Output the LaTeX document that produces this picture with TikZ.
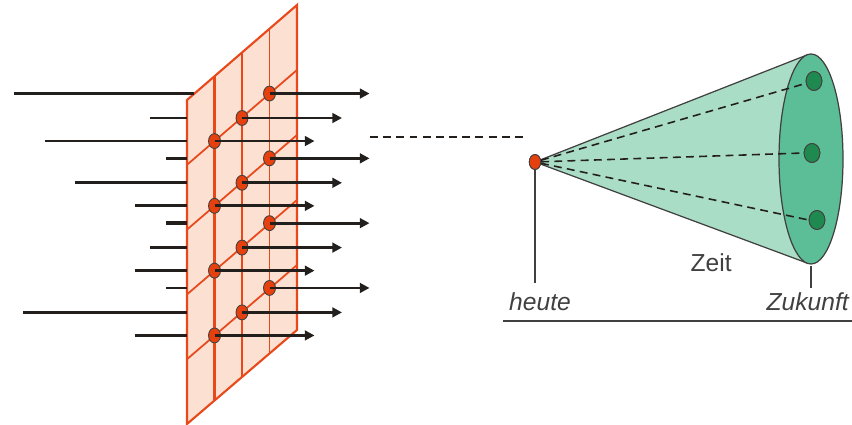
\documentclass[tikz,border=0pt]{standalone}
\usepackage{fontspec}
\setmainfont{Liberation Sans}
\usetikzlibrary{arrows.meta,shapes.geometric,positioning}
\definecolor{netzrot}{HTML}{E8481A}
\definecolor{netzfill}{HTML}{FCE0D2}
\definecolor{punktrot}{HTML}{E5400E}
\definecolor{kegelhell}{HTML}{AADDC5}
\definecolor{kegeldunkel}{HTML}{5CBE97}
\definecolor{punktgruen}{HTML}{1F8A4F}
\definecolor{strich}{HTML}{231F1C}
\definecolor{grau}{HTML}{404040}
\tikzset{every picture/.style={line width=0.75pt}}
\tikzset{
  netz/.style={draw=netzrot, line width=1pt},
  knoten/.style={ellipse, draw=strich!85, line width=0.5pt, fill=punktrot,
    minimum width=6.8pt, minimum height=8.5pt, inner sep=0pt},
  gruenpunkt/.style={ellipse, draw=strich!85, line width=0.5pt, fill=punktgruen,
    minimum width=9pt, minimum height=10.8pt, inner sep=0pt},
  pfeil/.style={draw=strich, line width=1.6pt, -{Triangle[length=5.5pt,width=5.5pt]}},
  zulauf/.style={draw=strich, line width=1.6pt},
  strichel/.style={draw=strich, line width=0.9pt, dash pattern=on 4.5pt off 3pt},
  kegelrand/.style={draw=grau, line width=0.7pt},
  beschriftung/.style={font=\fontsize{14}{16}\selectfont, text=grau, inner sep=0pt},
}

\begin{document}
\begin{tikzpicture}[x=0.02cm, y=-0.02cm]
    \useasboundingbox (0,0) rectangle (852,425);

    % Ebene (schraeges Gitter)
    \fill[netzfill] (187,100) -- (297,5) -- (297,330) -- (187,424) -- cycle;
    \foreach \kk in {1,...,4}
        \draw[netz] (187,{100+64.8*\kk}) -- (297,{5+65*\kk});
    \foreach \xs in {214.5,242}
        \draw[netz, line width=1.3pt] (\xs,{100-0.8636*(\xs-187)}) -- (\xs,{424-0.8636*(\xs-187)});
    \draw[netz, line width=0.7pt] (269.5,28.75) -- (269.5,352.75);
    \draw[netz, line width=1.2pt] (187,100) -- (297,5) -- (297,330) -- (187,424) -- cycle;

    % Punkte, Zulaeufe und Pfeile
    \foreach \xp/\yp/\xs/\xr [count=\nr] in {269.5/93.55/14/194, 242/118/150/187, 214.5/141.05/45/187,
                                     269.5/158.35/166/187, 242/182.8/75/187, 214.5/205.85/135/187,
                                     269.5/223.15/166/187, 242/247.6/150/187, 214.5/270.65/135/187,
                                     269.5/287.95/166/187, 242/312.4/23/187, 214.5/335.45/135/187}{
        \coordinate (ein\nr) at (\xs,\yp);
        \coordinate (rand\nr) at (\xr,\yp);
        \coordinate (aus\nr) at ({\xp+100},\yp);
        \draw[zulauf] (ein\nr) -- (rand\nr);
        \node[knoten] (p\nr) at (\xp,\yp) {};
        \draw[pfeil] (p\nr.center) -- (aus\nr);
    }
    \draw[zulauf, line width=2.2pt] (ein7) -- (rand7);
    \draw[zulauf, line width=2.2pt] (ein12) -- (rand12);

    % Verbindung zum Kegel
    \coordinate (lueckeA) at (370,137);
    \coordinate (lueckeB) at (525,137);
    \draw[strichel, line width=1.2pt] (lueckeA) -- (lueckeB);

    % Kegel
    \coordinate (oben) at (807,55);
    \coordinate (unten) at (807,263);
    \node[knoten, minimum width=6.5pt, minimum height=8.5pt] (heute) at (535,162) {};
    \fill[kegelhell] (heute.center) -- (oben) -- (unten) -- cycle;
    \draw[kegelrand] (heute.center) -- (oben);
    \draw[kegelrand] (heute.center) -- (unten);
    \draw[kegelrand, fill=kegeldunkel] (811,159) ellipse [x radius=32, y radius=105];
    \node[knoten, minimum width=6.5pt, minimum height=8.5pt] at (heute) {};

    % Zukuenfte
    \node[gruenpunkt] (z1) at (814,81) {};
    \node[gruenpunkt] (z2) at (812,153) {};
    \node[gruenpunkt] (z3) at (817,220) {};
    \draw[strichel] (heute) -- (z1.center);
    \draw[strichel] (heute) -- (z2.west);
    \draw[strichel] (heute) -- (z3.west);
    \node[gruenpunkt] at (z1) {};
    \node[gruenpunkt] at (z2) {};
    \node[gruenpunkt] at (z3) {};

    % Zeitachse
    \coordinate (fussA) at (535,283);
    \coordinate (fussB1) at (811,266);
    \coordinate (fussB2) at (811,288);
    \draw[kegelrand, line width=0.9pt] (heute) -- (fussA);
    \draw[kegelrand, line width=0.9pt] (fussB1) -- (fussB2);
    \coordinate (achseA) at (503,321);
    \coordinate (achseB) at (852,321);
    \draw[grau, line width=1.2pt] (achseA) -- (achseB);

    % Beschriftungen
    \node[beschriftung, anchor=base] (lheute) at (540,311) {\itshape heute};
    \node[beschriftung, anchor=base west] (lzukunft) at (766,311) {\itshape Zukunft};
    \node[beschriftung, anchor=base west] (lzeit) at (690,272) {Zeit};
\end{tikzpicture}
\end{document}
